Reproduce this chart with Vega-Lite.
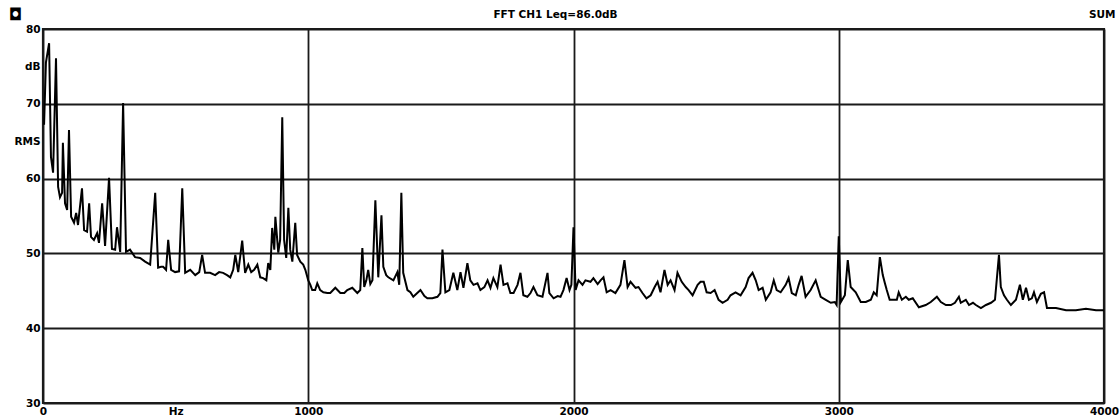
{
  "$schema": "https://vega.github.io/schema/vega-lite/v6.json",
  "width": 1061,
  "height": 374,
  "autosize": {"type": "none"},
  "padding": {"left": 43, "top": 29, "right": 16, "bottom": 17},
  "background": "white",
  "config": {
    "view": {"stroke": "#1a1a1a", "strokeWidth": 2.2},
    "axis": {"labelFont": "DejaVu Sans", "labelFontWeight": "bold", "labelFontSize": 10.5, "labelColor": "black", "titleFont": "DejaVu Sans", "titleFontWeight": "bold", "titleColor": "black"}
  },
  "data": {"values": [
    {"hz":4,"db":67.2},{"hz":11,"db":75.5},{"hz":23,"db":78.1},{"hz":30,"db":62.9},{"hz":38,"db":60.8},{"hz":49,"db":76.1},{"hz":57,"db":58.9},{"hz":64,"db":57.5},{"hz":72,"db":58.1},{"hz":75,"db":64.8},{"hz":83,"db":56.7},{"hz":91,"db":55.8},{"hz":98,"db":66.5},{"hz":106,"db":54.9},{"hz":117,"db":54.1},{"hz":125,"db":55.4},{"hz":132,"db":53.8},{"hz":147,"db":58.7},{"hz":155,"db":53.1},{"hz":166,"db":52.9},{"hz":174,"db":56.7},{"hz":181,"db":52.2},{"hz":192,"db":51.8},{"hz":204,"db":52.7},{"hz":211,"db":51.4},{"hz":223,"db":56.7},{"hz":234,"db":51.0},{"hz":249,"db":60.1},{"hz":260,"db":50.6},{"hz":272,"db":50.5},{"hz":279,"db":53.5},{"hz":291,"db":50.2},{"hz":302,"db":70.1},{"hz":313,"db":50.2},{"hz":328,"db":50.5},{"hz":347,"db":49.5},{"hz":366,"db":49.4},{"hz":385,"db":48.9},{"hz":404,"db":48.5},{"hz":423,"db":58.1},{"hz":434,"db":48.1},{"hz":445,"db":48.2},{"hz":453,"db":48.2},{"hz":464,"db":47.8},{"hz":472,"db":51.8},{"hz":483,"db":47.8},{"hz":498,"db":47.5},{"hz":513,"db":47.6},{"hz":525,"db":58.7},{"hz":536,"db":47.4},{"hz":555,"db":47.8},{"hz":574,"db":47.1},{"hz":589,"db":47.5},{"hz":600,"db":49.8},{"hz":611,"db":47.4},{"hz":630,"db":47.4},{"hz":649,"db":47.1},{"hz":664,"db":47.5},{"hz":679,"db":47.4},{"hz":694,"db":47.1},{"hz":706,"db":46.8},{"hz":717,"db":47.8},{"hz":725,"db":49.8},{"hz":736,"db":47.5},{"hz":751,"db":51.7},{"hz":762,"db":47.4},{"hz":774,"db":48.5},{"hz":785,"db":47.5},{"hz":796,"db":47.8},{"hz":808,"db":48.5},{"hz":819,"db":46.8},{"hz":830,"db":46.7},{"hz":842,"db":46.4},{"hz":849,"db":48.7},{"hz":857,"db":47.8},{"hz":864,"db":53.4},{"hz":872,"db":50.5},{"hz":876,"db":54.9},{"hz":887,"db":50.1},{"hz":894,"db":51.8},{"hz":902,"db":68.2},{"hz":909,"db":51.8},{"hz":917,"db":49.4},{"hz":925,"db":56.1},{"hz":932,"db":50.5},{"hz":940,"db":48.9},{"hz":951,"db":54.1},{"hz":958,"db":49.8},{"hz":970,"db":48.9},{"hz":981,"db":48.5},{"hz":989,"db":47.8},{"hz":1000,"db":46.4},{"hz":1008,"db":45.8},{"hz":1015,"db":45.1},{"hz":1026,"db":45.1},{"hz":1034,"db":46.0},{"hz":1045,"db":45.1},{"hz":1057,"db":44.8},{"hz":1072,"db":44.7},{"hz":1083,"db":44.7},{"hz":1102,"db":45.4},{"hz":1121,"db":44.7},{"hz":1136,"db":44.7},{"hz":1147,"db":45.1},{"hz":1166,"db":45.4},{"hz":1185,"db":44.7},{"hz":1196,"db":45.1},{"hz":1204,"db":50.7},{"hz":1211,"db":45.5},{"hz":1219,"db":46.4},{"hz":1226,"db":47.8},{"hz":1234,"db":45.9},{"hz":1242,"db":46.4},{"hz":1253,"db":57.1},{"hz":1264,"db":46.8},{"hz":1276,"db":55.1},{"hz":1283,"db":48.2},{"hz":1294,"db":47.1},{"hz":1302,"db":46.8},{"hz":1321,"db":46.4},{"hz":1336,"db":47.5},{"hz":1343,"db":45.8},{"hz":1351,"db":58.1},{"hz":1358,"db":47.4},{"hz":1374,"db":45.1},{"hz":1385,"db":44.8},{"hz":1396,"db":44.2},{"hz":1411,"db":44.7},{"hz":1423,"db":45.1},{"hz":1438,"db":44.3},{"hz":1449,"db":44.0},{"hz":1468,"db":44.0},{"hz":1487,"db":44.2},{"hz":1498,"db":44.7},{"hz":1506,"db":50.5},{"hz":1517,"db":44.8},{"hz":1532,"db":45.1},{"hz":1547,"db":47.4},{"hz":1562,"db":45.1},{"hz":1574,"db":47.5},{"hz":1585,"db":45.4},{"hz":1600,"db":48.7},{"hz":1611,"db":46.4},{"hz":1623,"db":45.8},{"hz":1638,"db":46.0},{"hz":1649,"db":45.1},{"hz":1664,"db":45.5},{"hz":1676,"db":46.4},{"hz":1687,"db":45.4},{"hz":1698,"db":46.7},{"hz":1713,"db":45.5},{"hz":1725,"db":48.5},{"hz":1736,"db":45.8},{"hz":1751,"db":46.0},{"hz":1762,"db":44.7},{"hz":1774,"db":44.7},{"hz":1789,"db":45.8},{"hz":1800,"db":47.4},{"hz":1811,"db":44.4},{"hz":1826,"db":44.2},{"hz":1838,"db":44.7},{"hz":1849,"db":45.5},{"hz":1864,"db":44.4},{"hz":1883,"db":44.2},{"hz":1902,"db":47.4},{"hz":1909,"db":44.7},{"hz":1925,"db":44.0},{"hz":1940,"db":44.3},{"hz":1951,"db":44.2},{"hz":1962,"db":45.1},{"hz":1974,"db":46.7},{"hz":1985,"db":45.1},{"hz":1992,"db":45.8},{"hz":2000,"db":53.5},{"hz":2008,"db":45.1},{"hz":2019,"db":46.4},{"hz":2034,"db":45.8},{"hz":2045,"db":46.4},{"hz":2064,"db":46.2},{"hz":2075,"db":46.7},{"hz":2091,"db":45.9},{"hz":2102,"db":46.4},{"hz":2113,"db":46.8},{"hz":2125,"db":44.8},{"hz":2140,"db":45.1},{"hz":2158,"db":44.7},{"hz":2177,"db":45.8},{"hz":2192,"db":49.1},{"hz":2204,"db":45.5},{"hz":2215,"db":46.2},{"hz":2234,"db":45.4},{"hz":2245,"db":45.5},{"hz":2260,"db":44.7},{"hz":2275,"db":44.0},{"hz":2291,"db":44.4},{"hz":2306,"db":45.5},{"hz":2317,"db":46.2},{"hz":2328,"db":44.8},{"hz":2343,"db":47.8},{"hz":2355,"db":45.8},{"hz":2366,"db":46.4},{"hz":2381,"db":45.1},{"hz":2392,"db":47.4},{"hz":2408,"db":46.2},{"hz":2423,"db":45.5},{"hz":2434,"db":45.1},{"hz":2449,"db":44.4},{"hz":2468,"db":45.8},{"hz":2479,"db":46.2},{"hz":2491,"db":46.2},{"hz":2502,"db":44.8},{"hz":2517,"db":44.7},{"hz":2532,"db":45.1},{"hz":2547,"db":43.8},{"hz":2562,"db":43.4},{"hz":2581,"db":43.8},{"hz":2592,"db":44.4},{"hz":2611,"db":44.8},{"hz":2630,"db":44.4},{"hz":2649,"db":45.5},{"hz":2660,"db":46.7},{"hz":2675,"db":47.4},{"hz":2687,"db":46.4},{"hz":2698,"db":45.1},{"hz":2713,"db":45.4},{"hz":2725,"db":43.8},{"hz":2743,"db":44.8},{"hz":2755,"db":46.4},{"hz":2766,"db":45.1},{"hz":2781,"db":44.8},{"hz":2800,"db":45.8},{"hz":2811,"db":46.7},{"hz":2823,"db":44.7},{"hz":2838,"db":44.4},{"hz":2849,"db":45.8},{"hz":2860,"db":47.0},{"hz":2875,"db":44.2},{"hz":2894,"db":45.1},{"hz":2913,"db":46.4},{"hz":2932,"db":44.2},{"hz":2951,"db":43.8},{"hz":2970,"db":43.4},{"hz":2985,"db":43.5},{"hz":2992,"db":43.1},{"hz":3000,"db":52.3},{"hz":3008,"db":43.5},{"hz":3023,"db":44.4},{"hz":3034,"db":49.1},{"hz":3045,"db":45.5},{"hz":3064,"db":44.8},{"hz":3083,"db":43.5},{"hz":3102,"db":43.5},{"hz":3121,"db":43.8},{"hz":3132,"db":44.8},{"hz":3143,"db":44.4},{"hz":3155,"db":49.5},{"hz":3166,"db":47.1},{"hz":3174,"db":46.0},{"hz":3181,"db":45.1},{"hz":3192,"db":43.8},{"hz":3208,"db":43.8},{"hz":3219,"db":43.8},{"hz":3226,"db":44.8},{"hz":3238,"db":43.8},{"hz":3253,"db":44.2},{"hz":3264,"db":43.8},{"hz":3279,"db":44.0},{"hz":3302,"db":42.8},{"hz":3328,"db":43.1},{"hz":3347,"db":43.5},{"hz":3370,"db":44.2},{"hz":3385,"db":43.5},{"hz":3404,"db":43.1},{"hz":3423,"db":43.1},{"hz":3438,"db":43.4},{"hz":3453,"db":44.2},{"hz":3460,"db":43.4},{"hz":3479,"db":43.8},{"hz":3491,"db":43.1},{"hz":3506,"db":43.4},{"hz":3517,"db":43.1},{"hz":3536,"db":42.7},{"hz":3555,"db":43.1},{"hz":3574,"db":43.4},{"hz":3589,"db":43.8},{"hz":3604,"db":49.8},{"hz":3611,"db":45.5},{"hz":3623,"db":44.4},{"hz":3634,"db":43.8},{"hz":3649,"db":43.1},{"hz":3668,"db":43.8},{"hz":3683,"db":45.8},{"hz":3694,"db":43.8},{"hz":3706,"db":45.4},{"hz":3717,"db":43.8},{"hz":3728,"db":44.0},{"hz":3736,"db":44.8},{"hz":3747,"db":43.5},{"hz":3762,"db":44.6},{"hz":3774,"db":44.8},{"hz":3785,"db":42.7},{"hz":3819,"db":42.7},{"hz":3857,"db":42.4},{"hz":3894,"db":42.4},{"hz":3932,"db":42.6},{"hz":3970,"db":42.4},{"hz":4000,"db":42.4}
  ]},
  "layer": [
    {
      "mark": {"type": "line", "color": "black", "strokeWidth": 2, "strokeJoin": "miter"},
      "encoding": {
        "x": {"field": "hz", "type": "quantitative", "scale": {"domain": [0, 4000], "nice": false, "zero": false},
          "axis": {"orient": "bottom", "title": null, "values": [0,500,1000,1500,2000,2500,3000,3500,4000], "format": "d",
            "labelExpr": "datum.value == 500 ? 'Hz' : (datum.value % 1000 == 0 ? datum.label : '')",
            "ticks": false, "domain": false, "labelPadding": 3, "labelFlush": false, "labelOverlap": false,
            "grid": true, "gridColor": "#1a1a1a", "gridWidth": 1.8,
            "gridOpacity": {"condition": {"test": "datum.value % 1000 != 0", "value": 0}, "value": 1}}},
        "y": {"field": "db", "type": "quantitative", "scale": {"domain": [30, 80], "nice": false, "zero": false},
          "axis": {"orient": "left", "values": [30,35,40,45,50,55,60,65,70,75,80],
            "labelExpr": "datum.value == 75 ? 'dB' : (datum.value == 65 ? 'RMS' : (datum.value % 10 == 0 ? datum.label : ''))",
            "ticks": false, "domain": false, "labelPadding": 3, "labelFlush": false, "labelOverlap": false,
            "grid": true, "gridColor": "#1a1a1a", "gridWidth": 1.8,
            "gridOpacity": {"condition": {"test": "datum.value % 10 != 0", "value": 0}, "value": 1},
            "title": "◘", "titleAngle": 0, "titleX": -28, "titleY": -15, "titleAlign": "center", "titleBaseline": "middle", "titleFontSize": 16}}
      }
    },
    {
      "mark": {"type": "line", "opacity": 0},
      "encoding": {
        "x": {"field": "hz", "type": "quantitative",
          "axis": {"orient": "top", "labels": false, "ticks": false, "domain": false, "grid": false,
            "title": "FFT CH1 Leq=86.0dB", "titleX": 512, "titleY": -15, "titleAlign": "center", "titleBaseline": "middle", "titleFontSize": 10.5}},
        "y": {"field": "db", "type": "quantitative",
          "axis": {"orient": "right", "labels": false, "ticks": false, "domain": false, "grid": false,
            "title": "SUM", "titleAngle": 0, "titleX": 11, "titleY": -15, "titleAlign": "right", "titleBaseline": "middle", "titleFontSize": 10.5}}
      }
    }
  ],
  "resolve": {"axis": {"x": "independent", "y": "independent"}}
}
